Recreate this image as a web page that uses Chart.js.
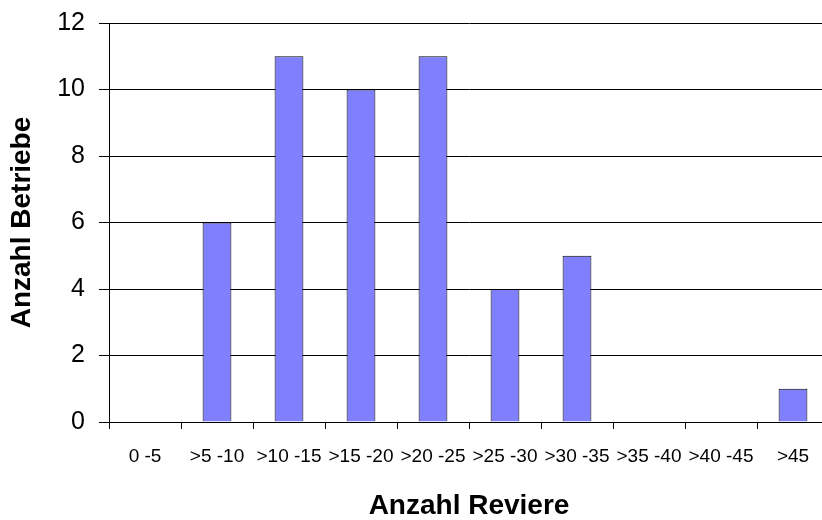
<!DOCTYPE html>
<html>
<head>
<meta charset="utf-8">
<script src="https://cdn.jsdelivr.net/npm/chart.js@4/dist/chart.umd.min.js"></script>
<style>
  html, body { margin: 0; padding: 0; background: #fff; overflow: hidden; }
  #wrap { width: 822px; height: 520px; overflow: hidden; }
  canvas { display: block; }
</style>
</head>
<body>
<div id="wrap"><canvas id="chart" width="832" height="520"></canvas></div>
<script>
// Verteilung der Betriebe nach Anzahl Reviere
const categories = ['0 -5', '>5 -10', '>10 -15', '>15 -20', '>20 -25', '>25 -30', '>30 -35', '>35 -40', '>40 -45', '>45'];
const betriebe = [0, 6, 11, 10, 11, 4, 5, 0, 0, 1];
const yTicks = [0, 2, 4, 6, 8, 10, 12];

const ctx = document.getElementById('chart').getContext('2d');

new Chart(ctx, {
    type: 'bar',
    data: {
        labels: categories,
        datasets: [{
            label: 'Anzahl Betriebe',
            data: betriebe,
            backgroundColor: '#8080ff',
            borderColor: '#000000',
            borderWidth: 1,
            barPercentage: 0.4,
            categoryPercentage: 1.0
        }]
    },
    options: {
        responsive: false,
        animation: false,
        layout: { padding: { top: 23, right: 3, bottom: 0, left: 0 } },
        plugins: {
            legend: { display: false },
            tooltip: { enabled: false }
        },
        scales: {
            x: {
                offset: true,
                border: { display: true, color: '#000', width: 1 },
                grid: {
                    offset: true,
                    drawOnChartArea: false,
                    drawTicks: true,
                    tickLength: 7,
                    color: '#000'
                },
                ticks: {
                    autoSkip: false,
                    maxRotation: 0,
                    minRotation: 0,
                    padding: 16,
                    color: '#000',
                    font: { family: 'Arial, "Liberation Sans", sans-serif', size: 19 }
                },
                title: {
                    display: true,
                    text: 'Anzahl Reviere',
                    color: '#000',
                    padding: 0,
                    font: { family: 'Arial, "Liberation Sans", sans-serif', size: 28, weight: 'bold', lineHeight: 1 }
                },
                afterFit: function (scale) { scale.height = 98; }
            },
            y: {
                min: 0,
                max: 12,
                border: { display: true, color: '#000', width: 1 },
                grid: {
                    color: '#000',
                    lineWidth: 1,
                    drawTicks: true,
                    tickLength: 10
                },
                afterBuildTicks: function (scale) {
                    scale.ticks = yTicks.map(v => ({ value: v }));
                },
                ticks: {
                    padding: 14,
                    color: '#000',
                    font: { family: 'Arial, "Liberation Sans", sans-serif', size: 25 }
                },
                title: {
                    display: true,
                    text: 'Anzahl Betriebe',
                    color: '#000',
                    padding: { top: 8, bottom: 0 },
                    font: { family: 'Arial, "Liberation Sans", sans-serif', size: 28, weight: 'bold', lineHeight: 1 }
                },
                afterFit: function (scale) {
                    scale.width = 109;
                    // keep the tick padding from pushing the plot area down
                    scale.paddingTop = 0;
                    scale.paddingBottom = 0;
                }
            }
        }
    }
});
</script>
</body>
</html>
